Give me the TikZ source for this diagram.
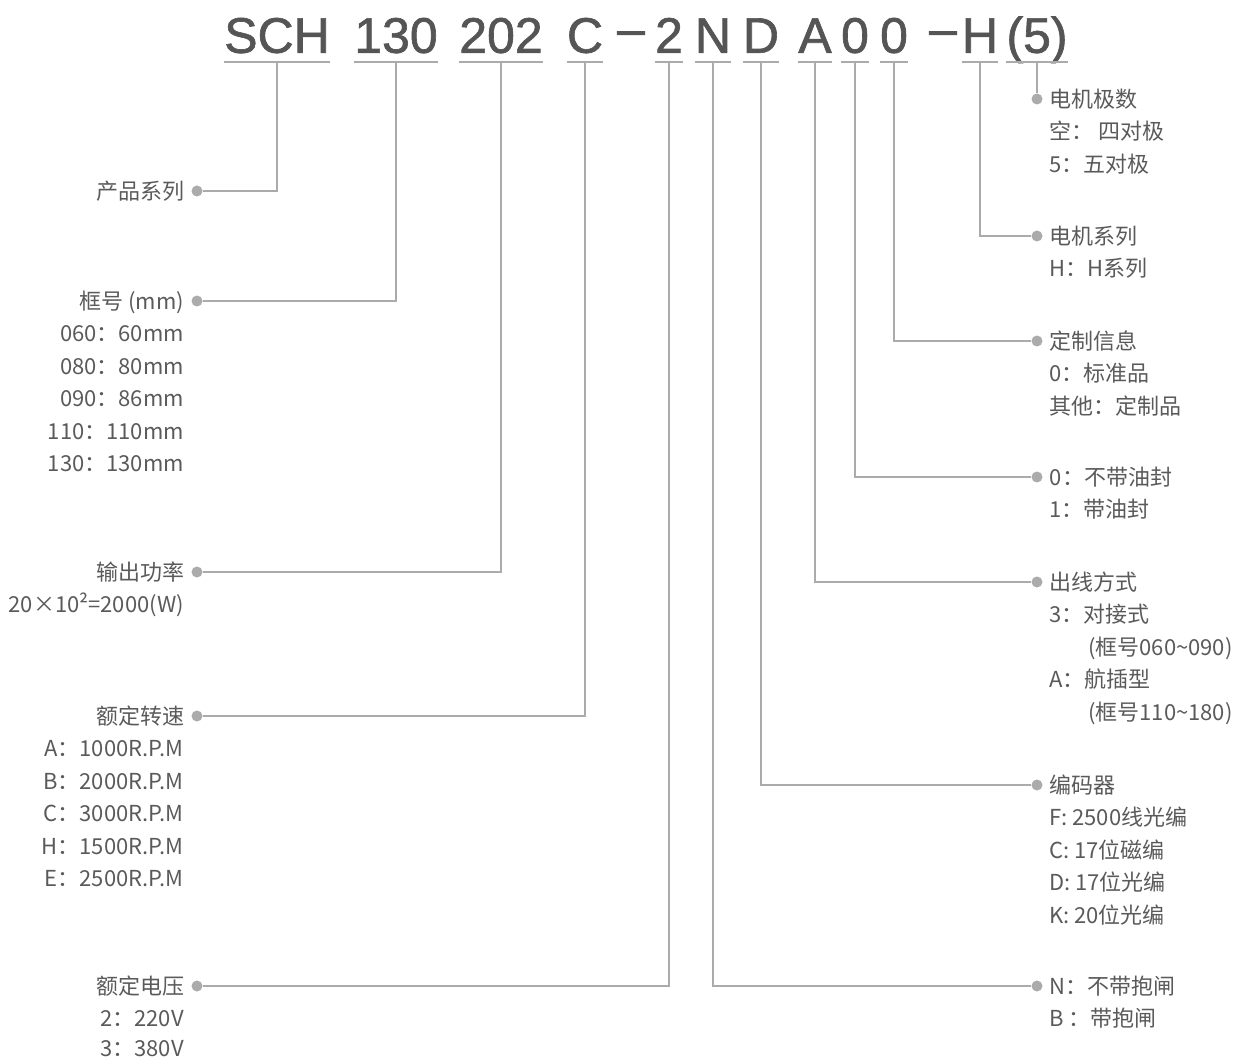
\documentclass[tikz,border=0pt]{standalone}
\usepackage{fontspec}
\setmainfont{Noto Sans CJK SC}
\newfontfamily\codefont[FakeBold=1.3]{Liberation Sans}
\usetikzlibrary{positioning}

\definecolor{txtgray}{HTML}{5A5A5A}
\definecolor{codegray}{HTML}{555555}
\definecolor{linegray}{HTML}{ABABAB}

\tikzset{
	code/.style={font=\codefont\fontsize{50}{50}\selectfont, text=codegray, inner xsep=0pt, inner ysep=9pt, text depth=0pt, anchor=south},
	uline/.style={draw=linegray, line width=1.3pt},
	link/.style={draw=linegray, line width=1.3pt},
	dot/.style={circle, fill=linegray, minimum size=11pt, inner sep=0pt},
	lab/.style={font=\fontsize{22}{22}\selectfont, text=txtgray, inner sep=0pt, text height=19.3pt, text depth=2.7pt},
}

\begin{document}
\begin{tikzpicture}[x=1pt, y=-1pt]
	\useasboundingbox (0, 0) rectangle (1240, 1059);
	% model code
	\node [code] (sch) at (277, 62) {SCH};
	\node [code] (frame) at (396, 62) {130};
	\node [code] (power) at (501, 62) {202};
	\node [code] (speed) at (585, 62) {C};
	\node [code] (dasha) at (631, 62) {\raisebox{0.14em}{–}};
	\node [code] (volt) at (669, 62) {2};
	\node [code] (brake) at (713, 62) {N};
	\node [code] (enc) at (761, 62) {D};
	\node [code] (outlet) at (815, 62) {A};
	\node [code] (seal) at (855, 62) {0};
	\node [code] (custom) at (894, 62) {0};
	\node [code] (dashb) at (943, 62) {\raisebox{0.14em}{–}};
	\node [code] (motor) at (980, 62) {H};
	\node [code] (poles) at (1037, 62) {(5)};
	\foreach \n in {sch, frame, power, speed, volt, brake, enc, outlet, seal, custom, motor, poles}
		\draw [uline] (\n.south west) -- (\n.south east);

	% left side
	\node [dot] (dsch) at (197, 191) {};
	\node [dot] (dframe) at (197, 301) {};
	\node [dot] (dpower) at (197, 572) {};
	\node [dot] (dspeed) at (197, 716) {};
	\node [dot] (dvolt) at (197, 986) {};
	\draw [link] (sch.south) -- (sch.south |- dsch) -- (dsch);
	\draw [link] (frame.south) -- (frame.south |- dframe) -- (dframe);
	\draw [link] (power.south) -- (power.south |- dpower) -- (dpower);
	\draw [link] (speed.south) -- (speed.south |- dspeed) -- (dspeed);
	\draw [link] (volt.south) -- (volt.south |- dvolt) -- (dvolt);

	\node [lab, left=7pt of dsch] (lsch) {产品系列};
	\node [lab, left=7pt of dframe] (lframe) {框号 (mm)};
	\foreach \t [count=\i] in {060：60mm, 080：80mm, 090：86mm, 110：110mm, 130：130mm}
		\node [lab, anchor=east] (lframe\i) at (184, {301+32.5*\i}) {\t};
	\node [lab, left=7pt of dpower] (lpower) {输出功率};
	\node [lab, anchor=east] (lpower1) at (184, 604.5) {20×10²=2000(W)};
	\node [lab, left=7pt of dspeed] (lspeed) {额定转速};
	\foreach \t [count=\i] in {A：1000R.P.M, B：2000R.P.M, C：3000R.P.M, H：1500R.P.M, E：2500R.P.M}
		\node [lab, anchor=east] (lspeed\i) at (184, {716+32.5*\i}) {\t};
	\node [lab, left=7pt of dvolt] (lvolt) {额定电压};
	\node [lab, anchor=east] (lvolt1) at (184, 1018) {2：220V};
	\node [lab, anchor=east] (lvolt2) at (184, 1048) {3：380V};

	% right side
	\node [dot] (dpoles) at (1037, 99) {};
	\node [dot] (dmotor) at (1037, 236) {};
	\node [dot] (dcustom) at (1037, 341) {};
	\node [dot] (dseal) at (1037, 477) {};
	\node [dot] (doutlet) at (1037, 582) {};
	\node [dot] (denc) at (1037, 785) {};
	\node [dot] (dbrake) at (1037, 986) {};
	\draw [link] (poles.south) -- (dpoles);
	\draw [link] (motor.south) -- (motor.south |- dmotor) -- (dmotor);
	\draw [link] (custom.south) -- (custom.south |- dcustom) -- (dcustom);
	\draw [link] (seal.south) -- (seal.south |- dseal) -- (dseal);
	\draw [link] (outlet.south) -- (outlet.south |- doutlet) -- (doutlet);
	\draw [link] (enc.south) -- (enc.south |- denc) -- (denc);
	\draw [link] (brake.south) -- (brake.south |- dbrake) -- (dbrake);

	\node [lab, right=7pt of dpoles] (lpoles) {电机极数};
	\foreach \t [count=\i] in {空： 四对极, 5：五对极}
		\node [lab, anchor=west] (lpoles\i) at (1049, {99+32.5*\i}) {\t};
	\node [lab, right=7pt of dmotor] (lmotor) {电机系列};
	\node [lab, anchor=west] (lmotor1) at (1049, 268.5) {H：H系列};
	\node [lab, right=7pt of dcustom] (lcustom) {定制信息};
	\foreach \t [count=\i] in {0：标准品, 其他：定制品}
		\node [lab, anchor=west] (lcustom\i) at (1049, {341+32.5*\i}) {\t};
	\node [lab, right=7pt of dseal] (lseal) {0：不带油封};
	\node [lab, anchor=west] (lseal1) at (1049, 509.5) {1：带油封};
	\node [lab, right=7pt of doutlet] (loutlet) {出线方式};
	\node [lab, anchor=west] (loutlet1) at (1049, 614.5) {3：对接式};
	\node [lab, anchor=west] (loutlet2) at (1088, 647) {(框号060\textasciitilde090)};
	\node [lab, anchor=west] (loutlet3) at (1049, 679.5) {A：航插型};
	\node [lab, anchor=west] (loutlet4) at (1088, 712) {(框号110\textasciitilde180)};
	\node [lab, right=7pt of denc] (lenc) {编码器};
	\foreach \t [count=\i] in {F: 2500线光编, C: 17位磁编, D: 17位光编, K: 20位光编}
		\node [lab, anchor=west] (lenc\i) at (1049, {785+32.5*\i}) {\t};
	\node [lab, right=7pt of dbrake] (lbrake) {N：不带抱闸};
	\node [lab, anchor=west] (lbrake1) at (1049, 1018.5) {B ：带抱闸};
\end{tikzpicture}
\end{document}
